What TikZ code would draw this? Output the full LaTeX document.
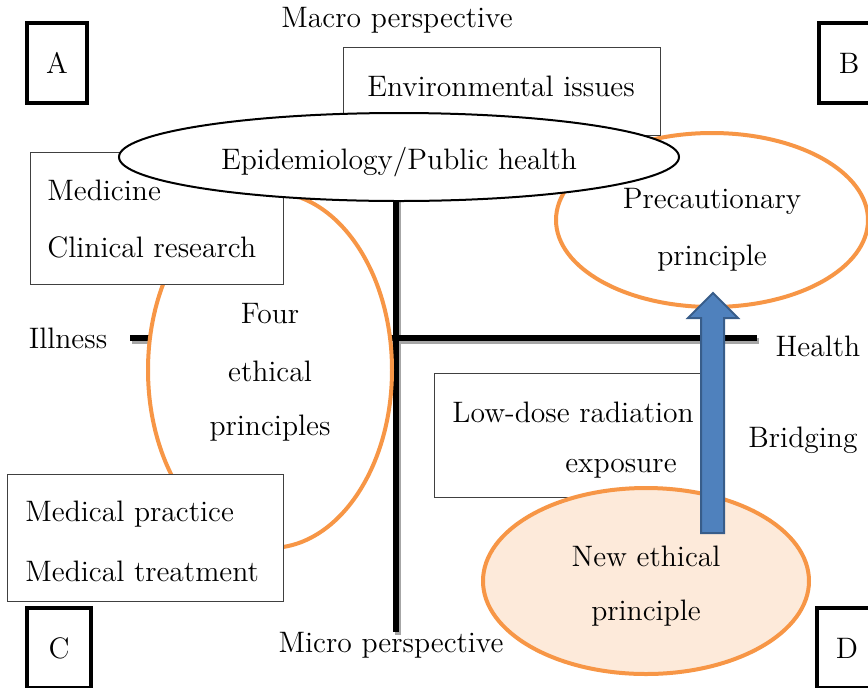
\documentclass[tikz,border=0pt]{standalone}
\usetikzlibrary{shapes.geometric}

\definecolor{ethicorange}{HTML}{F79646}
\definecolor{ethicpeach}{HTML}{FDEADA}
\definecolor{bridgeblue}{HTML}{4F81BD}
\definecolor{bridgeedge}{HTML}{385D8A}

\tikzset{
  corner/.style={draw, line width=2pt, minimum width=30pt, minimum height=40pt, inner sep=0pt},
  plainbox/.style={draw=black!75, line width=0.5pt, fill=white, inner sep=0pt},
  oval/.style={ellipse, draw=ethicorange, line width=2pt, fill=white, inner sep=0pt},
  axis/.style={line width=3pt, line cap=butt},
  label/.style={inner sep=0pt}
}

\begin{document}
\begin{tikzpicture}[x=0.5pt, y=-0.5pt, font=\fontsize{14.8}{18}\selectfont]
\useasboundingbox (0,0) rectangle (868,687);

% quadrant letters
\node[corner] (qa) at (57,63) {A};
\node[corner] (qb) at (849,63) {B};
\node[corner, minimum width=32pt] (qc) at (59,648) {C};
\node[corner] (qd) at (847,648) {D};

% axes with a soft shadow
\coordinate (ill) at (130,338);
\coordinate (hea) at (757,338);
\coordinate (top) at (396,195);
\coordinate (bot) at (396,632);
\draw[axis, black!35] ([shift={(2,3)}]ill) -- ([shift={(2,3)}]hea);
\draw[axis, black!35] ([shift={(2,3)}]top) -- ([shift={(2,3)}]bot);
\draw[axis] (ill) -- (hea);
\draw[axis] (top) -- (bot);

% ethical principles (orange)
\node[oval, minimum width=122pt, minimum height=178pt] (four) at (270,370) {};
\node[oval, minimum width=156pt, minimum height=87pt] (prec) at (712,220) {};

% fields of practice
\node[plainbox, minimum width=126.5pt, minimum height=66pt] (med) at (156.5,218) {};
\node[plainbox, minimum width=138pt, minimum height=63.5pt] (prac) at (145,537.5) {};
\node[plainbox, minimum width=158.5pt, minimum height=44pt] (env) at (501.5,91) {};
\node[ellipse, draw, line width=1pt, fill=white, inner sep=0pt,
      minimum width=280pt, minimum height=44pt] (epi) at (399,157) {};
\node[plainbox, minimum width=140pt, minimum height=62pt] (low) at (574,435) {};
\node[oval, fill=ethicpeach, minimum width=163pt, minimum height=93pt] (new) at (646,581) {};

% bridging arrow
\filldraw[fill=bridgeblue, draw=bridgeedge, line width=1pt, line join=miter]
  (701,533) -- (701,318) -- (688,318) -- (713,293) -- (738,318)
  -- (724,318) -- (724,533) -- cycle;

% texts
\node[label] (macro) at (397,20) {Macro perspective};
\node[label] (micro) at (391,645) {Micro perspective};
\node[label] (illness) at (68,338) {Illness};
\node[label] (health) at (818,346) {Health};
\node[label] (bridge) at (803,440) {Bridging};
\node[label] (envt) at (501,86) {Environmental issues};
\node[label] (epit) at (399,162) {Epidemiology/Public health};
\node[label, anchor=west] (medt) at (47,190) {Medicine};
\node[label, anchor=west] (clin) at (47,247) {Clinical research};
\node[label, anchor=west] (pract) at (25,514) {Medical practice};
\node[label, anchor=west] (treat) at (25,571) {Medical treatment};
\node[label] (fourt) at (270,314) {Four};
\node[label] (fourm) at (270,371) {ethical};
\node[label] (fourb) at (270,428) {principles};
\node[label] (prect) at (712,201) {Precautionary};
\node[label] (precb) at (712,258) {principle};
\node[label, anchor=west] (lowt) at (452,412) {Low-dose radiation};
\node[label] (lowb) at (621,469) {exposure};
\node[label] (newt) at (646,556) {New ethical};
\node[label] (newb) at (646,613) {principle};
\end{tikzpicture}
\end{document}
